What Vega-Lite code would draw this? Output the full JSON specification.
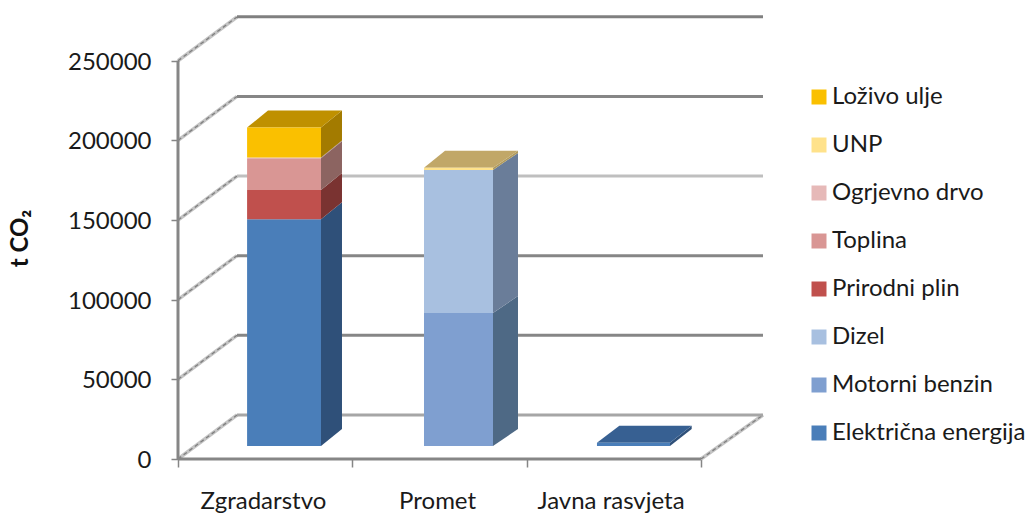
{
"$schema":"https://vega.github.io/schema/vega-lite/v6.json",
"autosize":{"type":"none"},
"padding":{"left":178,"top":17,"right":269,"bottom":54},
"width":585,"height":442,
"background":"white",
"view":{"stroke":null},
"config":{"font":"Lato","view":{"stroke":null}},
"datasets":{
"grid":[{"v":0},{"v":50000},{"v":100000},{"v":150000},{"v":200000},{"v":250000}],
"diag":[
{"id":"0","x":0,"y":0},{"id":"0","x":0.3384,"y":27620},
{"id":"1","x":0,"y":50000},{"id":"1","x":0.3384,"y":77620},
{"id":"2","x":0,"y":100000},{"id":"2","x":0.3384,"y":127620},
{"id":"3","x":0,"y":150000},{"id":"3","x":0.3384,"y":177620},
{"id":"4","x":0,"y":200000},{"id":"4","x":0.3384,"y":227620},
{"id":"5","x":0,"y":250000},{"id":"5","x":0.3384,"y":277464},
{"id":"r","x":3,"y":0},{"id":"r","x":3.3557,"y":27620}],
"axes":[{"x":0,"x2":0,"y":0,"y2":250000},{"x":0,"x2":3,"y":0,"y2":0}],
"fronts":[
{"cat":"Zgradarstvo","fuel":"Električna energija","n":1,"value":142300,"x":0.3963,"x2":0.8203},
{"cat":"Zgradarstvo","fuel":"Prirodni plin","n":4,"value":18400,"x":0.3963,"x2":0.8203},
{"cat":"Zgradarstvo","fuel":"Toplina","n":5,"value":19900,"x":0.3963,"x2":0.8203},
{"cat":"Zgradarstvo","fuel":"Ogrjevno drvo","n":6,"value":500,"x":0.3963,"x2":0.8203},
{"cat":"Zgradarstvo","fuel":"Loživo ulje","n":8,"value":18800,"x":0.3963,"x2":0.8203},
{"cat":"Promet","fuel":"Motorni benzin","n":2,"value":83500,"x":1.4111,"x2":1.8069},
{"cat":"Promet","fuel":"Dizel","n":3,"value":89800,"x":1.4111,"x2":1.8069},
{"cat":"Promet","fuel":"UNP","n":7,"value":1400,"x":1.4111,"x2":1.8069},
{"cat":"Javna rasvjeta","fuel":"Električna energija","n":1,"value":2000,"x":2.4033,"x2":2.8222}],
"sides":[
{"s":"a","fuel":"Električna energija","x":0.8203,"y":8160,"y2":150460},{"s":"a","fuel":"Električna energija","x":0.9407,"y":18832,"y2":161132},
{"s":"b","fuel":"Prirodni plin","x":0.8203,"y":150460,"y2":168860},{"s":"b","fuel":"Prirodni plin","x":0.9407,"y":161132,"y2":179532},
{"s":"c","fuel":"Toplina","x":0.8203,"y":168860,"y2":188760},{"s":"c","fuel":"Toplina","x":0.9407,"y":179532,"y2":199432},
{"s":"d","fuel":"Ogrjevno drvo","x":0.8203,"y":188760,"y2":189260},{"s":"d","fuel":"Ogrjevno drvo","x":0.9407,"y":199432,"y2":199932},
{"s":"e","fuel":"Loživo ulje","x":0.8203,"y":189260,"y2":208060},{"s":"e","fuel":"Loživo ulje","x":0.9407,"y":199932,"y2":218732},
{"s":"f","fuel":"Motorni benzin","x":1.8069,"y":8160,"y2":91660},{"s":"f","fuel":"Motorni benzin","x":1.9503,"y":18832,"y2":102332},
{"s":"g","fuel":"Dizel","x":1.8069,"y":91660,"y2":181460},{"s":"g","fuel":"Dizel","x":1.9503,"y":102332,"y2":192132},
{"s":"h","fuel":"UNP","x":1.8069,"y":181460,"y2":182860},{"s":"h","fuel":"UNP","x":1.9503,"y":192132,"y2":193532},
{"s":"i","fuel":"Električna energija","x":2.8222,"y":8160,"y2":10160},{"s":"i","fuel":"Električna energija","x":2.9467,"y":18832,"y2":20832}],
"tops":[
{"s":"z","fuel":"Loživo ulje","y":208060,"x":0.3963,"x2":0.8203},{"s":"z","fuel":"Loživo ulje","y":218732,"x":0.5163,"x2":0.9407},
{"s":"p","fuel":"UNP","y":182860,"x":1.4111,"x2":1.8069},{"s":"p","fuel":"UNP","y":193532,"x":1.5316,"x2":1.9503},
{"s":"j","fuel":"Električna energija","y":10160,"x":2.4033,"x2":2.8222},{"s":"j","fuel":"Električna energija","y":20832,"x":2.5315,"x2":2.9467}],
"labels":[{"cat":"Zgradarstvo","x":0.49},{"cat":"Promet","x":1.489},{"cat":"Javna rasvjeta","x":2.484}]
},
"layer":[
{"data":{"name":"diag"},"mark":{"type":"line","stroke":"#c4c4c4","strokeWidth":3.5},
 "encoding":{"x":{"field":"x","type":"quantitative","scale":{"domain":[0,3.3557],"nice":false,"padding":0},"axis":{"values":[0,1,2,3],"labels":false,"title":null,"grid":false,"domain":false,"ticks":true,"tickColor":"#868686","tickWidth":1.5,"tickSize":8}},
 "y":{"field":"y","type":"quantitative","scale":{"domain":[0,277464],"nice":false},"axis":{"values":[0,50000,100000,150000,200000,250000],"format":"d","grid":false,"domain":false,"ticks":true,"tickColor":"#868686","tickWidth":1.5,"tickSize":7,"labelPadding":20,"labelOffset":1.5,"labelFontSize":24,"labelColor":"#1a1a1a","labelFont":"Lato","title":"t CO₂","titleFontSize":24,"titleFont":"Lato","titleFontWeight":"bold","titleColor":"#111111","titleX":-146,"titleY":221,"titleAngle":-90}},
 "detail":{"field":"id"}}},
{"data":{"name":"diag"},"mark":{"type":"line","stroke":"#7f7f7f","strokeWidth":1.3,"strokeDash":[4,3]},
 "encoding":{"x":{"field":"x","type":"quantitative","scale":{"domain":[0,3.3557],"nice":false,"padding":0},"axis":null},"y":{"field":"y","type":"quantitative","scale":{"domain":[0,277464],"nice":false},"axis":null},"detail":{"field":"id"}}},
{"data":{"name":"grid"},"mark":{"type":"rule","strokeWidth":3,"yOffset":-44},
 "encoding":{"x":{"datum":0.3384,"type":"quantitative","scale":{"domain":[0,3.3557],"nice":false,"padding":0},"axis":null},"x2":{"datum":3.3557},
 "y":{"field":"v","type":"quantitative","scale":{"domain":[0,277464],"nice":false},"axis":null},
 "stroke":{"field":"v","type":"nominal","legend":null,"scale":{"domain":[0,50000,100000,150000,200000,250000],"range":["#a6a6a6","#868686","#868686","#bfbfbf","#868686","#808080"]}}}},
{"data":{"name":"axes"},"mark":{"type":"rule","stroke":"#868686","strokeWidth":3},
 "encoding":{"x":{"field":"x","type":"quantitative","scale":{"domain":[0,3.3557],"nice":false,"padding":0},"axis":null},"x2":{"field":"x2"},"y":{"field":"y","type":"quantitative","scale":{"domain":[0,277464],"nice":false},"axis":null},"y2":{"field":"y2"}}},
{"data":{"name":"sides"},"mark":{"type":"area","orient":"vertical"},
 "encoding":{"x":{"field":"x","type":"quantitative","scale":{"domain":[0,3.3557],"nice":false,"padding":0},"axis":null},"y":{"field":"y","type":"quantitative","scale":{"domain":[0,277464],"nice":false},"axis":null},"y2":{"field":"y2"},"detail":{"field":"s"},
 "fill":{"field":"fuel","type":"nominal","legend":null,"scale":{"domain":["Loživo ulje","UNP","Ogrjevno drvo","Toplina","Prirodni plin","Dizel","Motorni benzin","Električna energija"],"range":["#a37b00","#b09a5c","#a07f7e","#8c6461","#7a3331","#6a7d99","#4e6985","#2f5079"]}}}},
{"data":{"name":"tops"},"mark":{"type":"area","orient":"horizontal"},
 "encoding":{"y":{"field":"y","type":"quantitative","scale":{"domain":[0,277464],"nice":false},"axis":null},"x":{"field":"x","type":"quantitative","scale":{"domain":[0,3.3557],"nice":false,"padding":0},"axis":null},"x2":{"field":"x2"},"detail":{"field":"s"},
 "fill":{"field":"fuel","type":"nominal","legend":null,"scale":{"domain":["Loživo ulje","UNP","Električna energija"],"range":["#bf9000","#c1a768","#376092"]}}}},
{"data":{"name":"fronts"},"transform":[{"stack":"value","groupby":["cat"],"sort":[{"field":"n","order":"ascending"}],"as":["y0","y1"]}],
 "mark":{"type":"bar","orient":"vertical","yOffset":-13,"y2Offset":-13},
 "encoding":{"x":{"field":"x","type":"quantitative","scale":{"domain":[0,3.3557],"nice":false,"padding":0},"axis":null},"x2":{"field":"x2"},"y":{"field":"y0","type":"quantitative","scale":{"domain":[0,277464],"nice":false},"axis":null},"y2":{"field":"y1"},
 "color":{"field":"fuel","type":"nominal","title":null,"scale":{"domain":["Loživo ulje","UNP","Ogrjevno drvo","Toplina","Prirodni plin","Dizel","Motorni benzin","Električna energija"],"range":["#fac000","#ffe28b","#e6b9b8","#d99694","#c0504d","#a8c0e0","#7f9fd0","#4a7eb9"]},
 "legend":{"orient":"none","legendX":629,"legendY":68,"symbolType":"square","symbolSize":225,"symbolStrokeWidth":0,"labelFontSize":24,"labelFont":"Lato","labelColor":"#1a1a1a","labelOffset":1,"rowPadding":24,"labelLimit":260,"padding":0}}}},
{"data":{"name":"labels"},"mark":{"type":"text","fontSize":24,"font":"Lato","color":"#1a1a1a","dy":43,"baseline":"middle"},
 "encoding":{"x":{"field":"x","type":"quantitative","scale":{"domain":[0,3.3557],"nice":false,"padding":0},"axis":null},"y":{"datum":0,"type":"quantitative","scale":{"domain":[0,277464],"nice":false},"axis":null},"text":{"field":"cat"}}}
],
"resolve":{"scale":{"fill":"independent","color":"independent","stroke":"independent"},"axis":{"x":"independent","y":"independent"}}
}
